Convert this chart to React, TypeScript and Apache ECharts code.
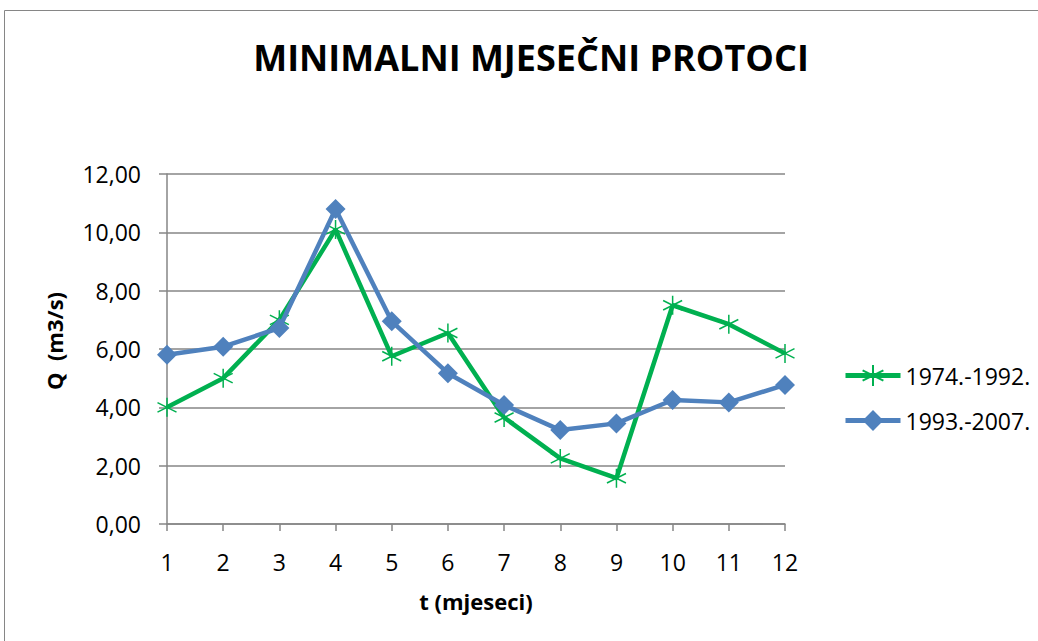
import React, { useEffect, useRef } from "react";
import * as echarts from "echarts";

const months = ["1", "2", "3", "4", "5", "6", "7", "8", "9", "10", "11", "12"];
const series1974 = [4.0, 5.0, 7.0, 10.1, 5.75, 6.55, 3.65, 2.25, 1.57, 7.5, 6.85, 5.85];
const series1993 = [5.8, 6.08, 6.72, 10.8, 6.95, 5.17, 4.08, 3.22, 3.45, 4.25, 4.17, 4.77];
const seriesNames = ["1974.-1992.", "1993.-2007."];
const titleText = "MINIMALNI MJESEČNI PROTOCI";
const yName = "Q  (m3/s)";
const xName = "t (mjeseci)";

const starPath = "path://M0,-10 L0,10 M-8.66,-5 L8.66,5 M-8.66,5 L8.66,-5";
const FONT = "'Open Sans', 'Noto Sans', sans-serif";

export default function App() {
  const ref = useRef<HTMLDivElement>(null);
  useEffect(() => {
    if (!ref.current) return;
    const chart = echarts.init(ref.current, null, { renderer: "svg" });
    chart.setOption({
      animation: false,
      backgroundColor: "#ffffff",
      textStyle: { fontFamily: FONT },
      graphic: [
        {
          type: "rect",
          shape: { x: 4.5, y: 10.5, width: 1100, height: 700 },
          style: { fill: "none", stroke: "#868686", lineWidth: 1 },
          silent: true,
        },
        {
          type: "text",
          x: 531,
          y: 57,
          style: {
            text: titleText,
            fontSize: 36,
            fontWeight: "bold",
            fill: "#000",
            fontFamily: FONT,
            textAlign: "center",
            textVerticalAlign: "middle",
          },
        },
        {
          type: "text",
          x: 54,
          y: 341,
          rotation: Math.PI / 2,
          style: {
            text: yName,
            fontSize: 22,
            fontWeight: "bold",
            fill: "#000",
            fontFamily: FONT,
            textAlign: "center",
            textVerticalAlign: "middle",
          },
        },
        {
          type: "text",
          x: 476,
          y: 601,
          style: {
            text: xName,
            fontSize: 22,
            fontWeight: "bold",
            fill: "#000",
            fontFamily: FONT,
            textAlign: "center",
            textVerticalAlign: "middle",
          },
        },
      ],
      legend: {
        orient: "vertical",
        left: 838,
        top: 359,
        itemWidth: 55,
        itemHeight: 26,
        itemGap: 22,
        lineStyle: { width: 5 },
        textStyle: { fontSize: 23, color: "#000", fontFamily: FONT },
        data: seriesNames,
      },
      grid: { left: 167, right: 253, top: 174, bottom: 117, containLabel: false },
      xAxis: {
        type: "category",
        data: months,
        boundaryGap: false,
        axisLine: { lineStyle: { color: "#868686", width: 1.5 } },
        axisTick: { show: true, length: 7, alignWithLabel: true, lineStyle: { color: "#868686", width: 1.5 } },
        axisLabel: { fontSize: 23, color: "#000", margin: 26, fontFamily: FONT },
      },
      yAxis: {
        type: "value",
        min: 0,
        max: 12,
        interval: 2,
        axisLine: { show: true, lineStyle: { color: "#868686", width: 1.5 } },
        axisTick: { show: true, length: 8, lineStyle: { color: "#868686", width: 1.5 } },
        splitLine: { lineStyle: { color: "#868686", width: 1.5 } },
        axisLabel: {
          fontSize: 23,
          color: "#000",
          margin: 26,
          fontFamily: FONT,
          formatter: (v: number) => v.toFixed(2).replace(".", ","),
        },
      },
      series: [
        {
          name: seriesNames[0],
          type: "line",
          data: series1974,
          lineStyle: { color: "#00B050", width: 4.5 },
          symbol: starPath,
          symbolSize: 19,
          showAllSymbol: true,
          itemStyle: { color: "#00B050", borderColor: "#00B050", borderWidth: 1.5 },
          z: 2,
        },
        {
          name: seriesNames[1],
          type: "line",
          data: series1993,
          lineStyle: { color: "#4F81BD", width: 4.5 },
          symbol: "diamond",
          symbolSize: 20,
          showAllSymbol: true,
          itemStyle: { color: "#4F81BD", borderColor: "#4F81BD", borderWidth: 0 },
          z: 3,
        },
      ],
    });
    return () => chart.dispose();
  }, []);
  return (
    <div
      ref={ref}
      style={{ position: "fixed", left: 0, top: 0, width: 1038, height: 641, background: "#fff" }}
    />
  );
}
